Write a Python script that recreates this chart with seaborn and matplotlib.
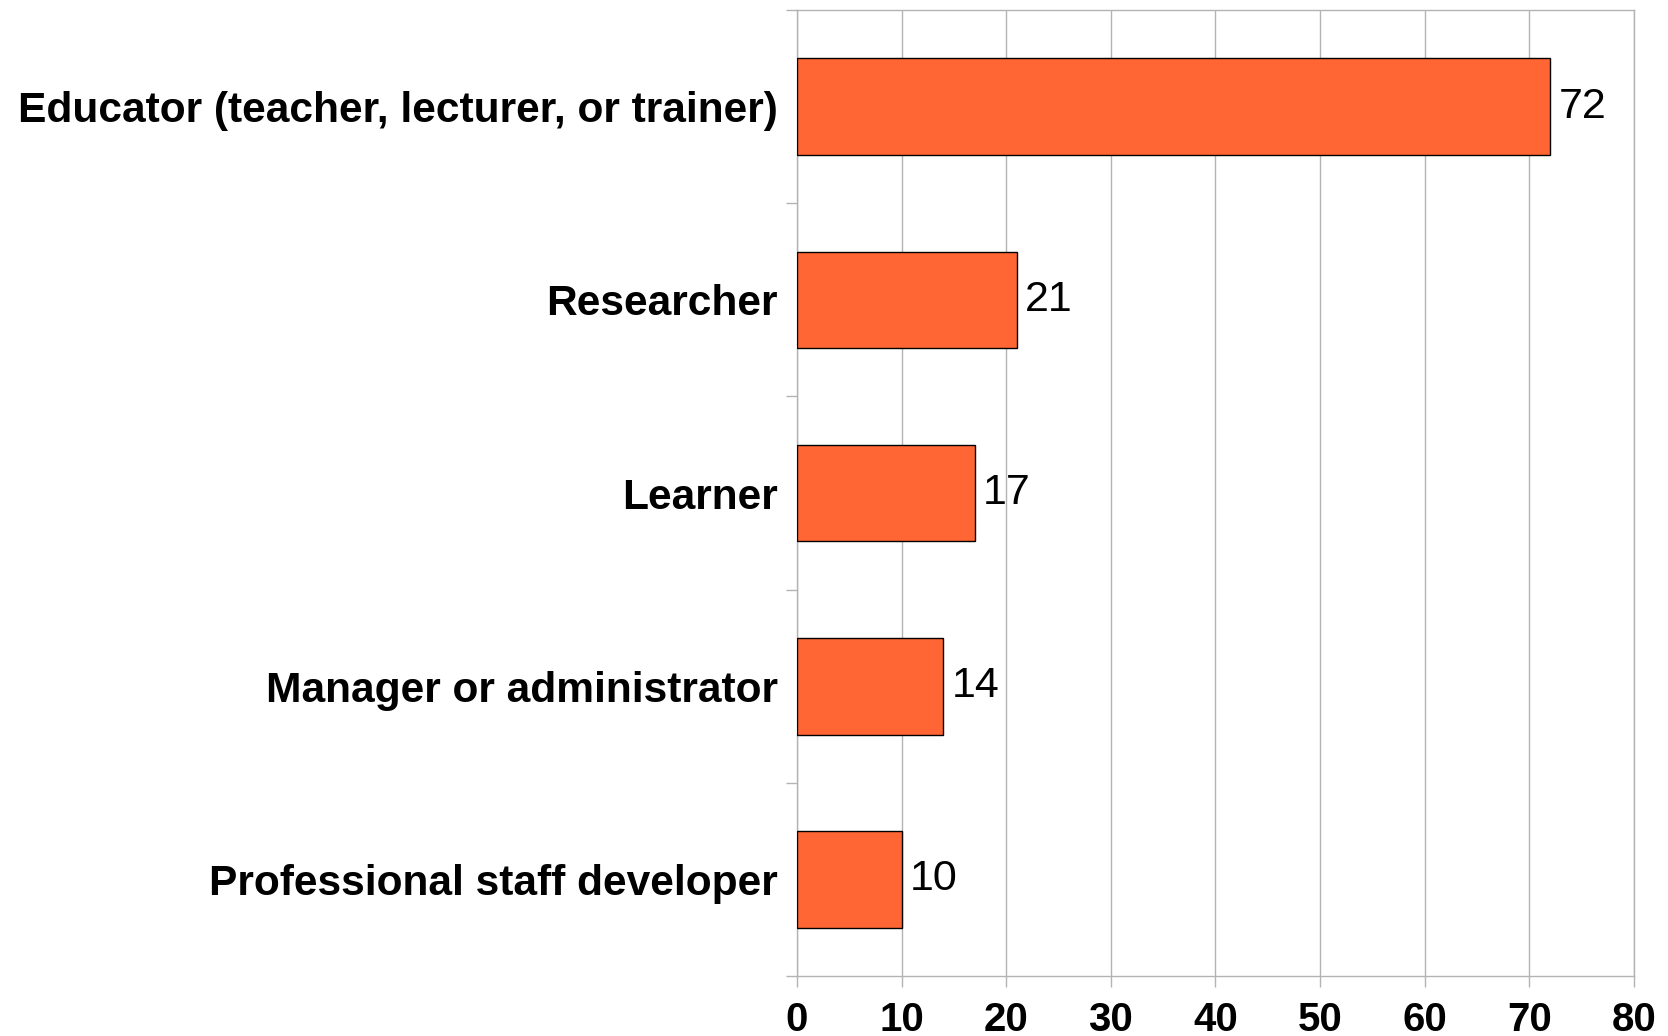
import matplotlib
matplotlib.use("Agg")
import matplotlib.pyplot as plt
import seaborn as sns
import pandas as pd
import numpy as np

roles = ["Educator (teacher, lecturer, or trainer)", "Researcher", "Learner",
         "Manager or administrator", "Professional staff developer"]
counts = [72, 21, 17, 14, 10]
xticks = [0, 10, 20, 30, 40, 50, 60, 70, 80]

df = pd.DataFrame({"role": roles, "count": counts})

sns.set_style("white")
plt.rcParams['font.family'] = ['Liberation Sans', 'DejaVu Sans']
plt.rcParams['text.color'] = 'black'

fig = plt.figure(figsize=(16.68, 10.36), dpi=100)
ax = fig.add_axes([0.4778, 0.0579, 0.9796 - 0.4778, 0.9903 - 0.0579])

sns.barplot(data=df, x="count", y="role", orient="h", color="#ff6633",
            saturation=1, width=0.5, edgecolor="black", linewidth=1, ax=ax, zorder=3)

grid_c = "#b3b3b3"
ax.set_xlim(0, 80)
ax.set_ylim(4.5, -0.5)
ax.set_xticks(xticks)
ax.set_xticklabels([str(t) for t in xticks], fontsize=29, fontweight="bold", color="black")
ax.set_yticklabels(roles, fontsize=30.6, fontweight="bold", color="black")
ax.set_yticks(np.arange(-0.5, 5, 1), minor=True)
ax.tick_params(axis="y", which="major", length=0, pad=14)
ax.tick_params(axis="y", which="minor", length=8, width=1, color=grid_c, left=True)
ax.tick_params(axis="x", which="major", length=8, width=1, color=grid_c, bottom=True, pad=10)
ax.xaxis.grid(True, color=grid_c, linewidth=1)
ax.set_axisbelow(True)
for s in ax.spines.values():
    s.set_color(grid_c)
    s.set_linewidth(1)
ax.set_xlabel("")
ax.set_ylabel("")

ax.bar_label(ax.containers[0], labels=[str(c) for c in counts], padding=6,
             fontsize=31, color="black")

fig.savefig("out.png", dpi=100)
